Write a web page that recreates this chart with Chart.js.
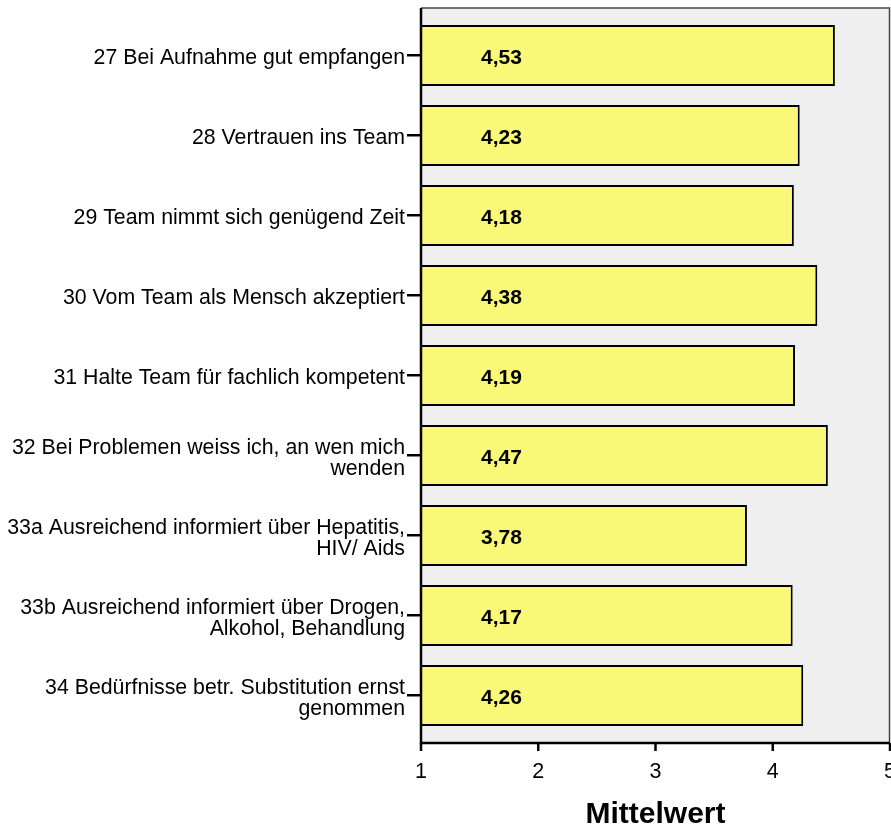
<!DOCTYPE html>
<html>
<head>
<meta charset="utf-8">
<script src="https://cdn.jsdelivr.net/npm/chart.js@4.4.0/dist/chart.umd.min.js"></script>
<style>
  html, body { margin: 0; padding: 0; background: #fff; }
  canvas { display: block; }
</style>
</head>
<body>
<canvas id="chart1" width="891" height="828"></canvas>
<script>
const categories = [
  '27 Bei Aufnahme gut empfangen',
  '28 Vertrauen ins Team',
  '29 Team nimmt sich genügend Zeit',
  '30 Vom Team als Mensch akzeptiert',
  '31 Halte Team für fachlich kompetent',
  ['32 Bei Problemen weiss ich, an wen mich', 'wenden'],
  ['33a Ausreichend informiert über Hepatitis,', 'HIV/ Aids'],
  ['33b Ausreichend informiert über Drogen,', 'Alkohol, Behandlung'],
  ['34 Bedürfnisse betr. Substitution ernst', 'genommen']
];
const means = [4.53, 4.23, 4.18, 4.38, 4.19, 4.47, 3.78, 4.17, 4.26];
const xTicks = [1, 2, 3, 4, 5];
const axisTitle = 'Mittelwert';

const FONT = "'Liberation Sans', Arial, sans-serif";
const GAP = 7.5; // gray box reaches a bit beyond the bar bands

// gray plot box, axis lines, tick marks and value labels
const frame = {
  id: 'frame',
  beforeDatasetsDraw(chart) {
    const { ctx, chartArea: a } = chart;
    ctx.save();
    ctx.fillStyle = '#efefef';
    ctx.fillRect(a.left, a.top - GAP, a.right - a.left, a.bottom - a.top + 2 * GAP);
    ctx.strokeStyle = '#444';
    ctx.lineWidth = 1.5;
    ctx.beginPath();
    ctx.moveTo(a.left, a.top - GAP);
    ctx.lineTo(a.right - 0.5, a.top - GAP);
    ctx.lineTo(a.right - 0.5, a.bottom + GAP);
    ctx.stroke();
    ctx.restore();
  },
  afterDatasetsDraw(chart) {
    const { ctx, chartArea: a } = chart;
    const x = chart.scales.x;
    const yb = a.bottom + GAP;
    ctx.save();
    ctx.strokeStyle = '#000';
    ctx.lineWidth = 2.5;
    ctx.beginPath();
    ctx.moveTo(a.left, a.top - GAP);
    ctx.lineTo(a.left, yb);
    ctx.lineTo(a.right, yb);
    ctx.stroke();
    xTicks.forEach(v => {
      const px = x.getPixelForValue(v);
      ctx.beginPath();
      ctx.moveTo(px, yb);
      ctx.lineTo(px, yb + 8);
      ctx.stroke();
    });

    ctx.fillStyle = '#000';
    ctx.font = 'bold 21px ' + FONT;
    ctx.textAlign = 'left';
    ctx.textBaseline = 'middle';
    const meta = chart.getDatasetMeta(0);
    meta.data.forEach((bar, i) => {
      const label = means[i].toFixed(2).replace('.', ',');
      ctx.fillText(label, x.getPixelForValue(1) + 60, bar.y + 3);
    });
    ctx.restore();
  }
};

document.addEventListener('DOMContentLoaded', () => {
  createChart1();
});

const createChart1 = () => {
  const ctx = document.getElementById('chart1').getContext('2d');

  const data = {
    labels: categories,
    datasets: [{
      data: means,
      backgroundColor: '#f9f879',
      borderColor: '#000',
      borderWidth: 2,
      borderSkipped: false,
      barPercentage: 0.76,
      categoryPercentage: 1
    }]
  };

  const config = {
    type: 'bar',
    data: data,
    plugins: [frame],
    options: {
      responsive: false,
      animation: false,
      indexAxis: 'y',
      layout: {
        padding: { top: 15.5, right: 1, bottom: 0, left: 0 }
      },
      plugins: {
        legend: { display: false },
        tooltip: { enabled: false },
        title: { display: false }
      },
      scales: {
        x: {
          type: 'linear',
          min: 1,
          max: 5,
          afterBuildTicks: scale => {
            scale.ticks = xTicks.map(v => ({ value: v }));
          },
          afterFit: scale => {
            scale.height = 92.5;
            scale.paddingLeft = 0;
            scale.paddingRight = 0;
          },
          grid: { display: false, drawTicks: false },
          border: { display: false },
          ticks: {
            color: '#000',
            font: { family: FONT, size: 21.5 },
            padding: 24,
            maxRotation: 0
          },
          title: {
            display: true,
            text: axisTitle,
            color: '#000',
            font: { family: FONT, size: 30, weight: 'bold', lineHeight: 1 },
            padding: { top: 0, bottom: -2 }
          }
        },
        y: {
          afterFit: scale => {
            scale.width = 421;
            scale.paddingTop = 0;
            scale.paddingBottom = 0;
          },
          grid: {
            display: true,
            drawOnChartArea: false,
            drawTicks: true,
            tickLength: 14,
            color: '#000',
            lineWidth: 2.5,
            offset: false
          },
          border: { display: false },
          ticks: {
            color: '#000',
            font: { family: FONT, size: 21.3, lineHeight: 0.96 },
            padding: 2,
            labelOffset: 3,
            autoSkip: false
          }
        }
      }
    }
  };

  const newChart = new Chart(ctx, config);
};
</script>
</body>
</html>
